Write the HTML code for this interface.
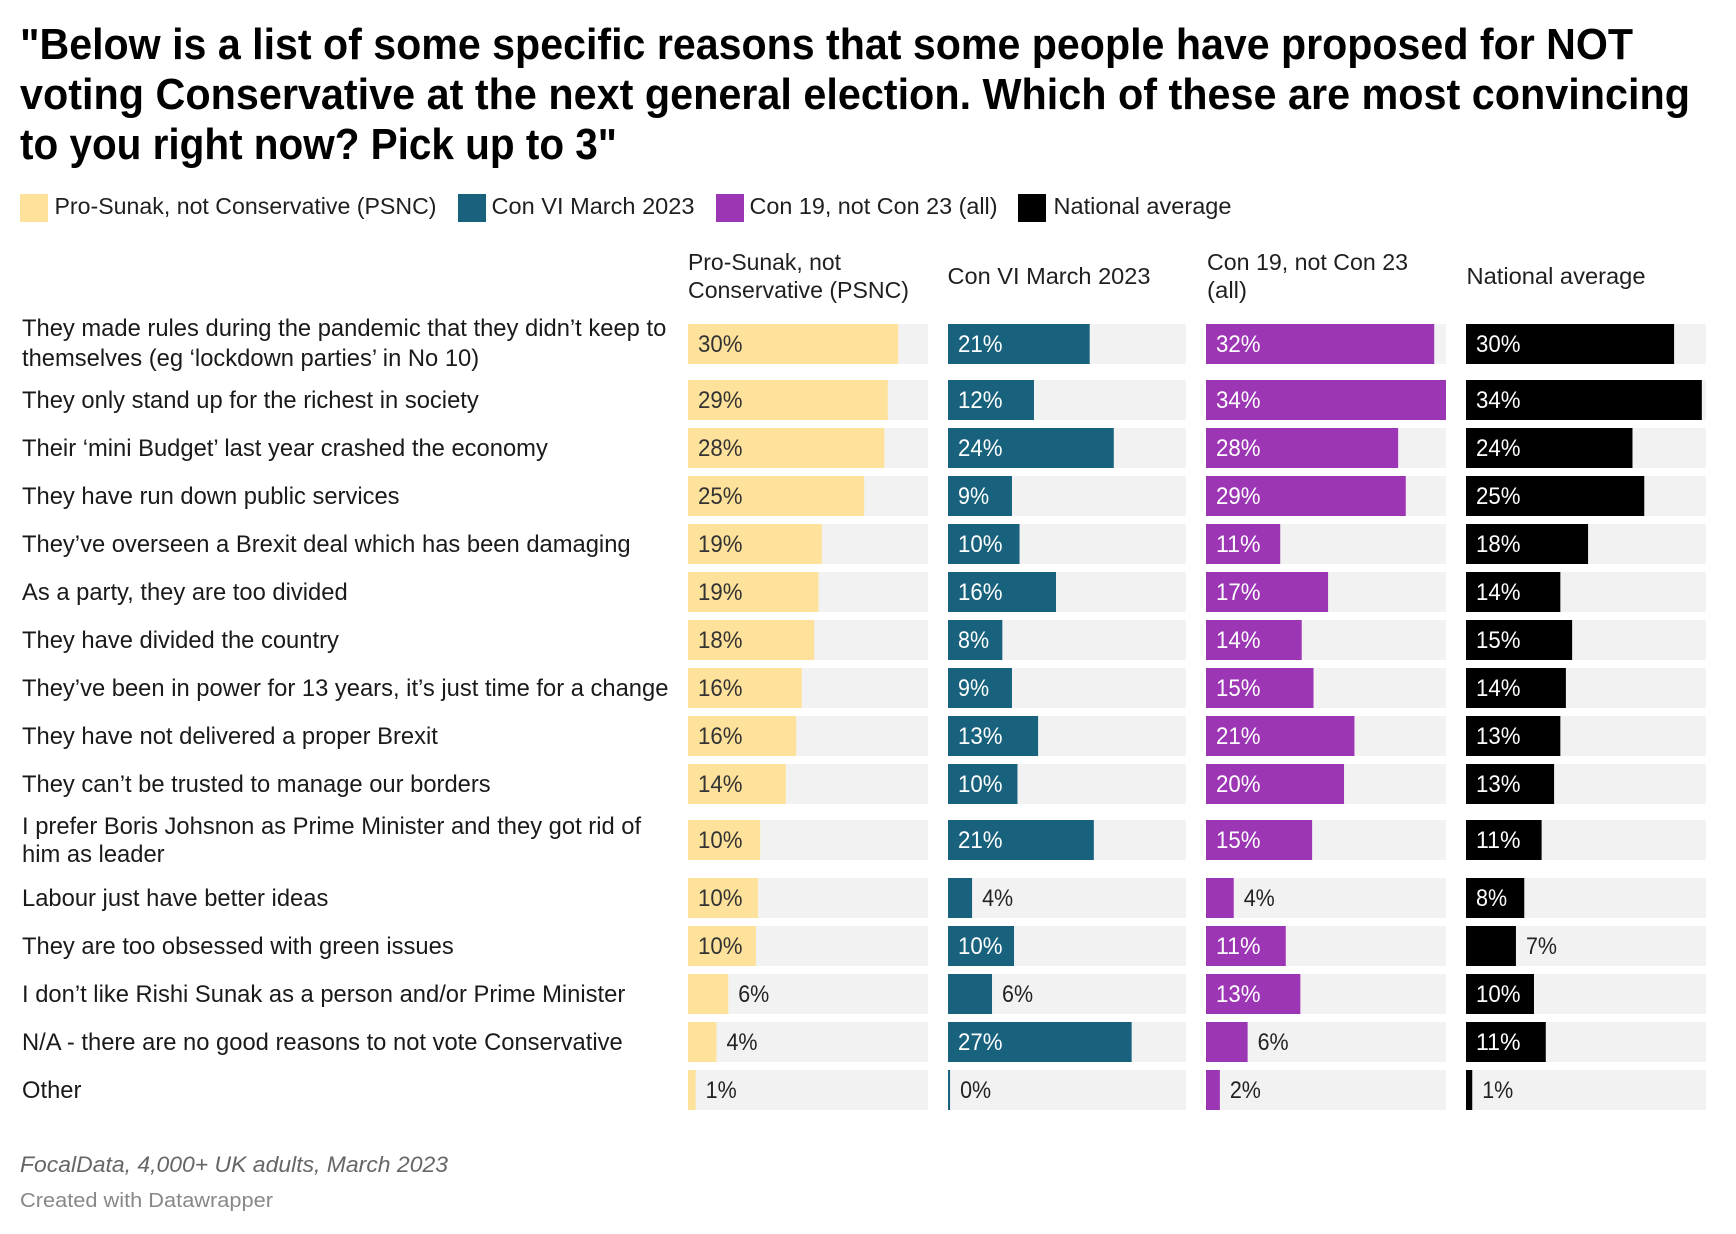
<!DOCTYPE html>
<html lang="en">
<head>
<meta charset="utf-8">
<title>Reasons for not voting Conservative</title>
<style>
html,body{margin:0;padding:0;background:#fff;}
svg{display:block;font-family:"Liberation Sans",Arial,sans-serif;}
.title{font-size:44px;font-weight:700;fill:#000;}
.legend{font-size:23px;fill:#1f1f1f;}
.head{font-size:23px;fill:#1f1f1f;}
.rowlabel{font-size:23.75px;fill:#1a1a1a;}
.val{font-size:24px;}
.note{font-size:22px;font-style:italic;fill:#666;}
.credit{font-size:20px;fill:#888;}
</style>
</head>
<body>
<svg id="chart" width="1736" height="1234" viewBox="0 0 1736 1234" xmlns="http://www.w3.org/2000/svg">
  <g>
    <text class="title" x="20" y="59" textLength="1613" lengthAdjust="spacingAndGlyphs">"Below is a list of some specific reasons that some people have proposed for NOT</text>
    <text class="title" x="20" y="109" textLength="1670" lengthAdjust="spacingAndGlyphs">voting Conservative at the next general election. Which of these are most convincing</text>
    <text class="title" x="20" y="159" textLength="597" lengthAdjust="spacingAndGlyphs">to you right now? Pick up to 3"</text>
  </g>
  <g>
    <rect x="20" y="194" width="28" height="28" fill="#fee29b"/>
    <text class="legend" x="54.5" y="214" textLength="382" lengthAdjust="spacingAndGlyphs">Pro-Sunak, not Conservative (PSNC)</text>
    <rect x="458" y="194" width="28" height="28" fill="#18627e"/>
    <text class="legend" x="491.5" y="214" textLength="203" lengthAdjust="spacingAndGlyphs">Con VI March 2023</text>
    <rect x="716" y="194" width="28" height="28" fill="#9c36b5"/>
    <text class="legend" x="749.5" y="214" textLength="248" lengthAdjust="spacingAndGlyphs">Con 19, not Con 23 (all)</text>
    <rect x="1018" y="194" width="28" height="28" fill="#000000"/>
    <text class="legend" x="1053.5" y="214" textLength="178" lengthAdjust="spacingAndGlyphs">National average</text>
  </g>
  <g>
    <text class="head" x="688" y="270" textLength="153" lengthAdjust="spacingAndGlyphs">Pro-Sunak, not</text>
    <text class="head" x="688" y="298" textLength="221" lengthAdjust="spacingAndGlyphs">Conservative (PSNC)</text>
    <text class="head" x="947.5" y="284" textLength="203" lengthAdjust="spacingAndGlyphs">Con VI March 2023</text>
    <text class="head" x="1207" y="270" textLength="201" lengthAdjust="spacingAndGlyphs">Con 19, not Con 23</text>
    <text class="head" x="1207" y="298" textLength="40" lengthAdjust="spacingAndGlyphs">(all)</text>
    <text class="head" x="1466.5" y="284" textLength="179" lengthAdjust="spacingAndGlyphs">National average</text>
  </g>
  <g id="rows"></g>
  <g>
    <text class="note" x="20" y="1172" textLength="428" lengthAdjust="spacingAndGlyphs">FocalData, 4,000+ UK adults, March 2023</text>
    <text class="credit" x="20" y="1207" textLength="253" lengthAdjust="spacingAndGlyphs">Created with Datawrapper</text>
  </g>
</svg>
<script>
const categories = [
  ["They made rules during the pandemic that they didn’t keep to", "themselves (eg ‘lockdown parties’ in No 10)"],
  ["They only stand up for the richest in society"],
  ["Their ‘mini Budget’ last year crashed the economy"],
  ["They have run down public services"],
  ["They’ve overseen a Brexit deal which has been damaging"],
  ["As a party, they are too divided"],
  ["They have divided the country"],
  ["They’ve been in power for 13 years, it’s just time for a change"],
  ["They have not delivered a proper Brexit"],
  ["They can’t be trusted to manage our borders"],
  ["I prefer Boris Johsnon as Prime Minister and they got rid of", "him as leader"],
  ["Labour just have better ideas"],
  ["They are too obsessed with green issues"],
  ["I don’t like Rishi Sunak as a person and/or Prime Minister"],
  ["N/A - there are no good reasons to not vote Conservative"],
  ["Other"]
];
const seriesPsnc = [30.3, 28.8, 28.3, 25.4, 19.3, 18.8, 18.2, 16.4, 15.6, 14.1, 10.4, 10.1, 9.8, 5.8, 4.1, 1.1];
const seriesConVi = [20.6, 12.5, 24.1, 9.3, 10.4, 15.7, 7.9, 9.3, 13.1, 10.1, 21.2, 3.5, 9.6, 6.4, 26.7, 0.3];
const seriesCon19 = [32.9, 34.6, 27.7, 28.8, 10.7, 17.6, 13.8, 15.5, 21.4, 19.9, 15.3, 4.0, 11.5, 13.6, 6.0, 2.0];
const seriesNational = [30.0, 34.0, 24.0, 25.7, 17.6, 13.6, 15.3, 14.4, 13.6, 12.7, 10.9, 8.4, 7.2, 9.8, 11.5, 0.9];
const printedPsnc = [30, 29, 28, 25, 19, 19, 18, 16, 16, 14, 10, 10, 10, 6, 4, 1];
const printedConVi = [21, 12, 24, 9, 10, 16, 8, 9, 13, 10, 21, 4, 10, 6, 27, 0];
const printedCon19 = [32, 34, 28, 29, 11, 17, 14, 15, 21, 20, 15, 4, 11, 13, 6, 2];
const printedNational = [30, 34, 24, 25, 18, 14, 15, 14, 13, 13, 11, 8, 7, 10, 11, 1];
const domainMax = 34.6;

const SVG_NS = "http://www.w3.org/2000/svg";
const BAR_H = 40;
const columns = [
  {key: "psnc", x: 688, w: 240, color: "#fee29b", inside: "#333333", values: seriesPsnc, printed: printedPsnc},
  {key: "con-vi", x: 948, w: 238, color: "#18627e", inside: "#ffffff", values: seriesConVi, printed: printedConVi},
  {key: "con-19", x: 1206, w: 240, color: "#9c36b5", inside: "#ffffff", values: seriesCon19, printed: printedCon19},
  {key: "national", x: 1466, w: 240, color: "#000000", inside: "#ffffff", values: seriesNational, printed: printedNational}
];

function xScale(col, value) {
  return value / domainMax * col.w;
}
function rowTop(i) {
  let y = 324;
  for (let r = 0; r < i; r++) {
    y += BAR_H + 8;
    if (categories[r].length > 1) y += 8;
    if (categories[r + 1].length > 1) y += 8;
    if (r === 10) y += 2;
  }
  return y;
}
function labelWidth(text) {
  return (text.length - 1) * 13.45 + 17.6;
}

const root = document.getElementById("rows");
categories.forEach(function (lines, i) {
  const top = rowTop(i);
  const center = top + BAR_H / 2;
  const leading = i === 0 ? 30 : 28;
  const firstBaseline = center + (i === 0 ? 7 : 8) - (lines.length - 1) * leading / 2;

  lines.forEach(function (line, l) {
    const t = document.createElementNS(SVG_NS, "text");
    t.setAttribute("class", "rowlabel");
    t.setAttribute("x", 22);
    t.setAttribute("y", firstBaseline + l * leading);
    
    
    t.textContent = line;
    root.appendChild(t);
  });

  columns.forEach(function (col) {
    const bg = document.createElementNS(SVG_NS, "rect");
    bg.setAttribute("x", col.x);
    bg.setAttribute("y", top);
    bg.setAttribute("width", col.w);
    bg.setAttribute("height", BAR_H);
    bg.setAttribute("fill", "#f2f2f2");
    
    
    root.appendChild(bg);

    const barW = xScale(col, col.values[i]);
    const bar = document.createElementNS(SVG_NS, "rect");
    bar.setAttribute("x", col.x);
    bar.setAttribute("y", top);
    bar.setAttribute("width", barW);
    bar.setAttribute("height", BAR_H);
    bar.setAttribute("fill", col.color);
    
    
    root.appendChild(bar);

    const text = col.printed[i] + "%";
    const tw = labelWidth(text);
    const fits = barW >= tw + 20;
    const val = document.createElementNS(SVG_NS, "text");
    val.setAttribute("class", "val");
    val.setAttribute("x", fits ? col.x + 10 : col.x + barW + 10);
    val.setAttribute("y", center + 8);
    val.setAttribute("fill", fits ? col.inside : "#222222");
    val.setAttribute("textLength", tw);
    val.setAttribute("lengthAdjust", "spacingAndGlyphs");
    
    
    val.textContent = text;
    root.appendChild(val);
  });
});
</script>
</body>
</html>
